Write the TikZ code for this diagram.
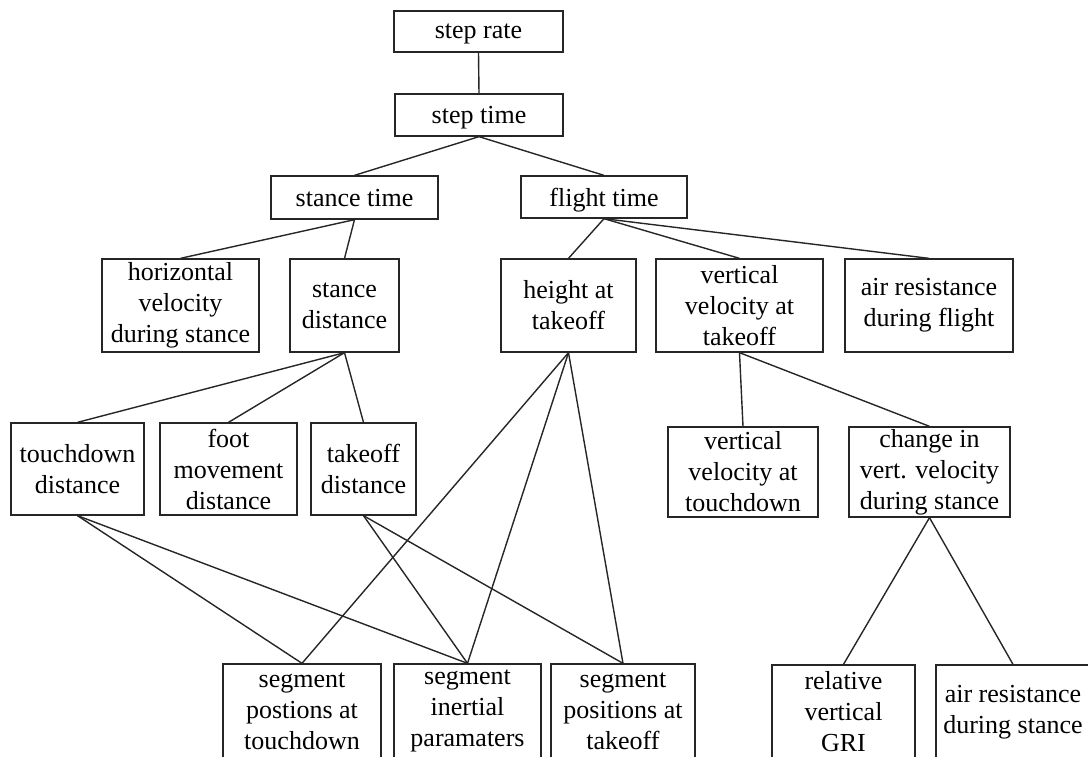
\documentclass[tikz,border=0pt]{standalone}
\usepackage{fontspec}
\setmainfont{Liberation Serif}
\begin{document}
\begin{tikzpicture}[x=1pt,y=-1pt,
  box/.style={draw=black!85, line width=1.3pt, inner sep=0pt, align=center,
    font={\fontsize{26}{31}\selectfont}},
  one/.style={text depth=0pt},
  sz/.style 2 args={minimum width=#1pt, minimum height=#2pt},
  link/.style={draw=black!85, line width=1.4pt}]
\useasboundingbox (0,0) rectangle (1088,756);
\clip (0,0) rectangle (1088,756);
% row 1-2
\node[box,one,sz={169}{41}] (rate) at (478.5,31.5) {step rate};
\node[box,one,sz={168}{42}] (stime) at (479,115) {step time};
% row 3
\node[box,one,sz={167}{43}] (stance) at (354.5,197.5) {stance time};
\node[box,one,sz={166}{42}] (flight) at (604,197) {flight time};
% row 4
\node[box,sz={157}{93}] (horiz) at (180.5,305.5) {horizontal\\velocity\\during stance};
\node[box,sz={109}{93}] (sdist) at (344.5,305.5) {stance\\distance};
\node[box,sz={135}{93}] (height) at (568.5,305.5) {height at\\takeoff};
\node[box,sz={167}{93}] (vvt) at (739.5,305.5) {vertical\\velocity at\\takeoff};
\node[box,sz={168}{93}] (airf) at (929,305.5) {air resistance\\during flight};
% row 5
\node[box,sz={133}{92}] (tdd) at (77.5,469) {touchdown\\distance};
\node[box,sz={137}{92}] (foot) at (228.5,469) {foot\\movement\\distance};
\node[box,sz={105}{92}] (tod) at (363.5,469) {takeoff\\distance};
\node[box,sz={150}{90}] (vvtd) at (743,472) {vertical\\velocity at\\touchdown};
\node[box,sz={161}{90}] (change) at (929.5,472) {change in\\vert. velocity\\during stance};
% row 6
\node[box,sz={158}{94}] (segtd) at (302,711) {segment\\postions at\\touchdown};
\node[box,sz={147}{94}] (seginert) at (467.5,711) {segment\\inertial\\paramaters};
\node[box,sz={144}{94}] (segto) at (623,711) {segment\\positions at\\takeoff};
\node[box,sz={143}{94}] (rel) at (843.5,712) {relative\\vertical\\GRI};
\node[box,sz={154}{94}] (airs) at (1013,712) {air resistance\\during stance};
% connectors
\path[link] (rate.south) -- (stime.north);
\path[link] (stime.south) -- (stance.north);
\path[link] (stime.south) -- (flight.north);
\path[link] (stance.south) -- (horiz.north);
\path[link] (stance.south) -- (sdist.north);
\path[link] (flight.south) -- (height.north);
\path[link] (flight.south) -- (vvt.north);
\path[link] (flight.south) -- (airf.north);
\path[link] (sdist.south) -- (tdd.north);
\path[link] (sdist.south) -- (foot.north);
\path[link] (sdist.south) -- (tod.north);
\path[link] (height.south) -- (segtd.north);
\path[link] (height.south) -- (seginert.north);
\path[link] (height.south) -- (segto.north);
\path[link] (vvt.south) -- (vvtd.north);
\path[link] (vvt.south) -- (change.north);
\path[link] (tdd.south) -- (segtd.north);
\path[link] (tdd.south) -- (seginert.north);
\path[link] (tod.south) -- (seginert.north);
\path[link] (tod.south) -- (segto.north);
\path[link] (change.south) -- (rel.north);
\path[link] (change.south) -- (airs.north);
\end{tikzpicture}
\end{document}
